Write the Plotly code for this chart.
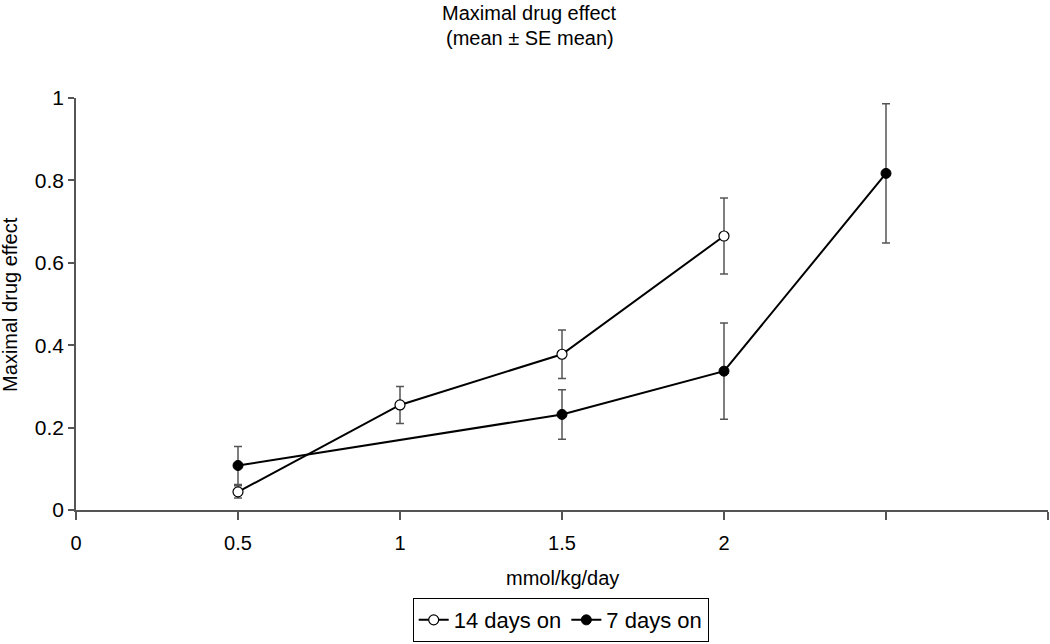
import plotly.graph_objects as go

# Data
dose_14 = [0.5, 1.0, 1.5, 2.0]
effect_14 = [0.044, 0.255, 0.378, 0.665]
se_14 = [0.015, 0.045, 0.059, 0.092]

dose_7 = [0.5, 1.5, 2.0, 2.5]
effect_7 = [0.108, 0.232, 0.337, 0.817]
se_7 = [0.046, 0.060, 0.117, 0.169]

x_tickvals = [0, 0.5, 1, 1.5, 2, 2.5, 3]
x_ticktext = ["0", "0.5", "1", "1.5", "2", "", ""]
y_tickvals = [0, 0.2, 0.4, 0.6, 0.8, 1]
y_ticktext = ["0", "0.2", "0.4", "0.6", "0.8", "1"]

title_lines = ["Maximal drug effect", "(mean ± SE mean)"]
x_title = "mmol/kg/day"
y_title = "Maximal drug effect"

FONT = "Liberation Sans, Arial, sans-serif"
ERR = "#555555"

fig = go.Figure()
fig.add_trace(go.Scatter(
    x=dose_14, y=effect_14, name="14 days on", mode="lines+markers",
    line=dict(color="black", width=2),
    marker=dict(symbol="circle", size=10, color="white", line=dict(color="black", width=1.2)),
    error_y=dict(type="data", array=se_14, visible=True, color=ERR, thickness=1.5, width=4),
))
fig.add_trace(go.Scatter(
    x=dose_7, y=effect_7, name="7 days on", mode="lines+markers",
    line=dict(color="black", width=2),
    marker=dict(symbol="circle", size=10, color="black", line=dict(color="black", width=1)),
    error_y=dict(type="data", array=se_7, visible=True, color=ERR, thickness=1.5, width=4),
))

# Title lines
fig.add_annotation(text=title_lines[0], x=0.467, xref="paper", y=1.206, yref="paper",
                   xanchor="center", yanchor="middle", showarrow=False, font=dict(size=20))
fig.add_annotation(text=title_lines[1], x=0.467, xref="paper", y=1.146, yref="paper",
                   xanchor="center", yanchor="middle", showarrow=False, font=dict(size=20))
# Axis titles
fig.add_annotation(text=x_title, x=0.5, xref="paper", y=-0.165, yref="paper",
                   xanchor="center", yanchor="middle", showarrow=False, font=dict(size=20))
fig.add_annotation(text=y_title, x=-0.068, xref="paper", y=0.5, yref="paper",
                   xanchor="center", yanchor="middle", textangle=-90, showarrow=False,
                   font=dict(size=20))

fig.update_layout(
    width=1050, height=644,
    paper_bgcolor="white", plot_bgcolor="white",
    font=dict(family=FONT, size=20, color="black"),
    margin=dict(l=76, r=2, t=98, b=134, autoexpand=False),
    xaxis=dict(range=[0, 3], tickmode="array", tickvals=x_tickvals, ticktext=x_ticktext,
               showgrid=False, zeroline=False, showline=True, linecolor=ERR, linewidth=1.5,
               ticks="outside", ticklen=8, tickcolor=ERR, tickwidth=1.5, ticklabelstandoff=6,
               automargin=False, tickfont=dict(size=20)),
    yaxis=dict(range=[0, 1], tickmode="array", tickvals=y_tickvals, ticktext=y_ticktext,
               showgrid=False, zeroline=False, showline=True, linecolor=ERR, linewidth=1.5,
               ticks="outside", ticklen=6, tickcolor=ERR, tickwidth=1.5, automargin=False,
               tickfont=dict(size=21)),
    legend=dict(orientation="h", x=0.534, xanchor="center", xref="container",
                y=0.003, yanchor="bottom", yref="container",
                bordercolor="black", borderwidth=1, bgcolor="white",
                font=dict(size=22), tracegroupgap=0),
    showlegend=True,
)

fig.write_html("out.html", config={"displayModeBar": False},
               post_script="document.body.style.margin='0';")
